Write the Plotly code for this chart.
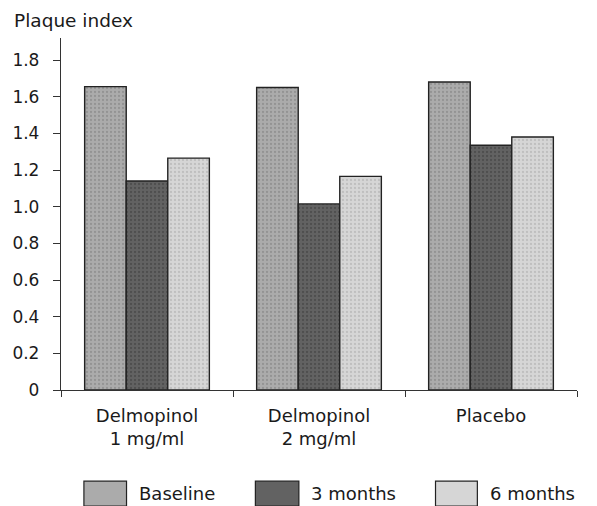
import plotly.graph_objects as go

categories = ["Delmopinol<br>1 mg/ml", "Delmopinol<br>2 mg/ml", "Placebo"]
series_names = ["Baseline", "3 months", "6 months"]
baseline = [1.655, 1.65, 1.68]
months3 = [1.14, 1.015, 1.335]
months6 = [1.265, 1.165, 1.38]
y_ticks = [0, 0.2, 0.4, 0.6, 0.8, 1.0, 1.2, 1.4, 1.6, 1.8]
y_tick_labels = ["0", "0.2", "0.4", "0.6", "0.8", "1.0", "1.2", "1.4", "1.6", "1.8"]

values = [baseline, months3, months6]
fills = ["#ababab", "#626262", "#d6d6d6"]
pat_fg = ["#7a7a7a", "#3a3a3a", "#a8a8a8"]

FONT = "DejaVu Sans, sans-serif"

fig = go.Figure()
for name, vals, c, fg in zip(series_names, values, fills, pat_fg):
    fig.add_trace(go.Bar(
        x=categories, y=vals, name=name,
        marker=dict(color=c, line=dict(color="#222222", width=1.4),
                    pattern=dict(shape=".", size=4, solidity=0.25, fgcolor=fg, bgcolor=c)),
        showlegend=False,
    ))

# custom legend with large swatches
leg_x = [(0.0444, 0.127), (0.3767, 0.461), (0.7258, 0.8069)]
for (x0, x1), name, c in zip(leg_x, series_names, fills):
    fig.add_shape(type="rect", xref="paper", yref="paper", x0=x0, x1=x1,
                  y0=-0.33, y1=-0.259, fillcolor=c, line=dict(color="#222222", width=1.2))
    fig.add_annotation(xref="paper", yref="paper", x=x1 + 0.02, y=-0.295,
                       text=name, showarrow=False, xanchor="left", yanchor="middle",
                       font=dict(family=FONT, size=18, color="#1a1a1a"))

fig.add_annotation(xref="paper", yref="paper", x=-0.094, y=1.015, xanchor="left", yanchor="bottom",
                   text="Plaque index", showarrow=False,
                   font=dict(family=FONT, size=18.5, color="#1a1a1a"))

fig.update_layout(
    width=597, height=506,
    margin=dict(l=59, r=20, t=38, b=116),
    paper_bgcolor="white", plot_bgcolor="white",
    barmode="group", bargap=0.275, bargroupgap=0,
    font=dict(family=FONT, size=17, color="#1a1a1a"),
    xaxis=dict(showline=True, linecolor="#333333", linewidth=1.3,
               ticks="outside", tickson="boundaries", ticklen=6, tickcolor="#333333",
               showgrid=False, ticklabelstandoff=9, tickfont=dict(size=18)),
    yaxis=dict(range=[0, 1.92], tickvals=y_ticks, ticktext=y_tick_labels,
               showline=True, linecolor="#333333", linewidth=1.3,
               ticks="outside", ticklen=7, tickcolor="#333333",
               showgrid=False, zeroline=False, ticklabelstandoff=10),
)

fig.write_html("out.html", config={"displayModeBar": False},
               post_script="document.body.style.margin='0';document.body.style.overflow='hidden';")
